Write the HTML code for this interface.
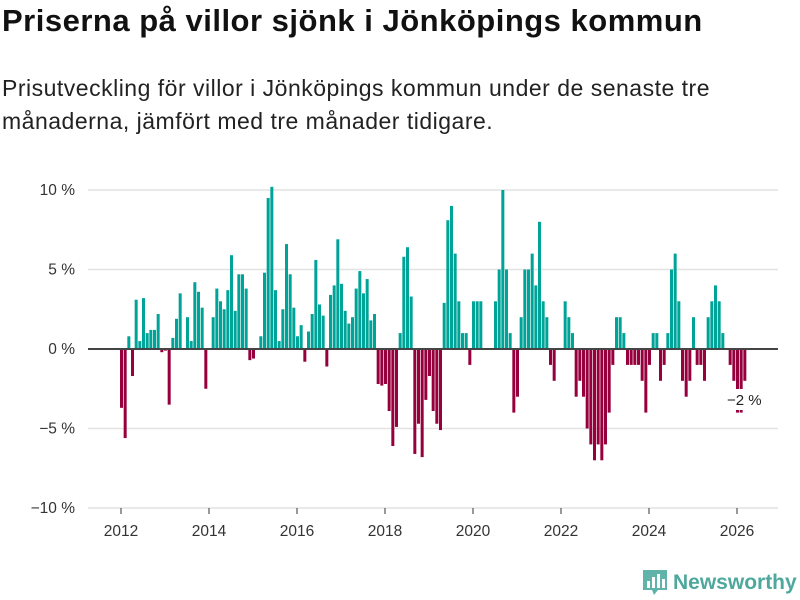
<!DOCTYPE html>
<html><head><meta charset="utf-8"><style>
body{margin:0;width:800px;height:600px;background:#fff;font-family:"Liberation Sans","DejaVu Sans",sans-serif;overflow:hidden;position:relative;color:#111}
#title{position:absolute;left:2px;top:3px;font-size:31px;font-weight:bold;margin:0;letter-spacing:0.5px;white-space:nowrap}
#sub{position:absolute;left:2px;top:72px;font-size:23px;line-height:33px;color:#222;width:740px;letter-spacing:0.5px}
svg{position:absolute;left:0;top:0}
</style></head><body>
<h1 id="title">Priserna på villor sjönk i Jönköpings kommun</h1>
<div id="sub">Prisutveckling för villor i Jönköpings kommun under de senaste tre månaderna, jämfört med tre månader tidigare.</div>
<svg id="chart" width="800" height="600"></svg>
<script>
const values=[-3.7,-5.6,0.8,-1.7,3.1,0.5,3.2,1.0,1.2,1.2,2.2,-0.2,-0.1,-3.5,0.7,1.9,3.5,null,2.0,0.5,4.2,3.6,2.6,-2.5,null,2.0,3.8,3.0,2.5,3.7,5.9,2.4,4.7,4.7,3.8,-0.7,-0.6,null,0.8,4.8,
9.5,10.2,3.7,0.5,2.5,6.6,4.7,2.6,0.8,1.5,-0.8,1.1,2.2,5.6,2.8,2.1,-1.1,3.4,4.0,6.9,4.1,2.4,1.6,2.0,3.8,4.9,3.5,4.4,1.8,2.2,-2.2,-2.3,-2.2,-3.9,-6.1,-4.9,1.0,5.8,6.4,3.3,-6.6,-4.7,
-6.8,-3.2,-1.7,-3.9,-4.7,-5.1,2.9,8.1,9.0,6.0,3.0,1.0,1.0,-1.0,3,3,3,null,null,null,3,5,10,5,1,-4,-3,2,5,5,6,4,8,3,2,-1,-2,null,null,3,2,1,-3,-2,
-3,-5,-6,-7,-6,-7,-6,-4,-1,2,2,1,-1,-1,-1,-1,-2,-4,-1,1,1,-2,-1,1,5,6,3,-2,-3,-2,2,-1,-1,-2,2,3,4,3,1,null,-1,-2,-4,-4,-2];
const startYear=2012;
const yTicks=[10,5,0,-5,-10];
const yTickLabels=["10 %","5 %","0 %","−5 %","−10 %"];
const xTicks=[2012,2014,2016,2018,2020,2022,2024,2026];
const lastLabel="−2 %";
const NS="http://www.w3.org/2000/svg";
const svg=document.getElementById('chart');
const y=v=>349-v*15.9;
const x=t=>121+(t-2012)*44;
function mk(tag,attrs,parent){const e=document.createElementNS(NS,tag);for(const k in attrs)e.setAttribute(k,attrs[k]);(parent||svg).appendChild(e);return e;}
const grid=mk('g',{});


yTicks.forEach((v,i)=>{
  if(v!==0){const l=mk('line',{x1:88,x2:778,y1:y(v),y2:y(v),stroke:'#e2e2e2','stroke-width':1.5},grid);
  
  }
  const t=mk('text',{x:75,y:y(v)+5,'text-anchor':'end','font-size':15.5,fill:'#333','font-family':'Liberation Sans, DejaVu Sans, sans-serif'});
  t.textContent=yTickLabels[i];
  
  
});
xTicks.forEach(yr=>{
  const l=mk('line',{x1:x(yr),x2:x(yr),y1:508,y2:514,stroke:'#333','stroke-width':1});
  
  
  const t=mk('text',{x:x(yr),y:536,'text-anchor':'middle','font-size':15.5,fill:'#333','font-family':'Liberation Sans, DejaVu Sans, sans-serif'});
  t.textContent=yr;
  
  
});
const bars=mk('g',{});


values.forEach((v,i)=>{
  if(v===null)return;
  const x0=x(startYear+i/12)-1;
  const top=Math.min(y(v),y(0)),h=Math.abs(y(v)-y(0));
  const r=mk('rect',{x:x0,y:top,width:3,height:h,fill:v>=0?'#00a398':'#96003c'},bars);
  
  
});
const zl=mk('line',{x1:88,x2:778,y1:y(0),y2:y(0),stroke:'#444','stroke-width':2});


const li=values.length-1;
const lbx=x(startYear+li/12)-1;
const bg=mk('rect',{x:lbx-19,y:389,width:40,height:21,fill:'#fff'});


const lt=mk('text',{x:lbx+1,y:405,'text-anchor':'middle','font-size':15,fill:'#222','font-family':'Liberation Sans, DejaVu Sans, sans-serif'});
lt.textContent=lastLabel;


</script>
<div style="position:absolute;left:642px;top:569px;display:flex;align-items:center">
<svg width="26" height="28" viewBox="0 0 26 28" style="position:static"><path d="M1 1h24v20h-9l-4 5-2-5H1z" fill="#5fb3a8"/><rect x="5" y="12" width="3" height="7" fill="#fff"/><rect x="10" y="8" width="3" height="11" fill="#fff"/><rect x="15" y="5" width="3" height="14" fill="#fff"/><rect x="20" y="10" width="3" height="9" fill="#fff"/></svg>
<span style="margin-left:5px;font-size:21px;font-weight:bold;color:#4ea89d">Newsworthy</span></div>
</body></html>
